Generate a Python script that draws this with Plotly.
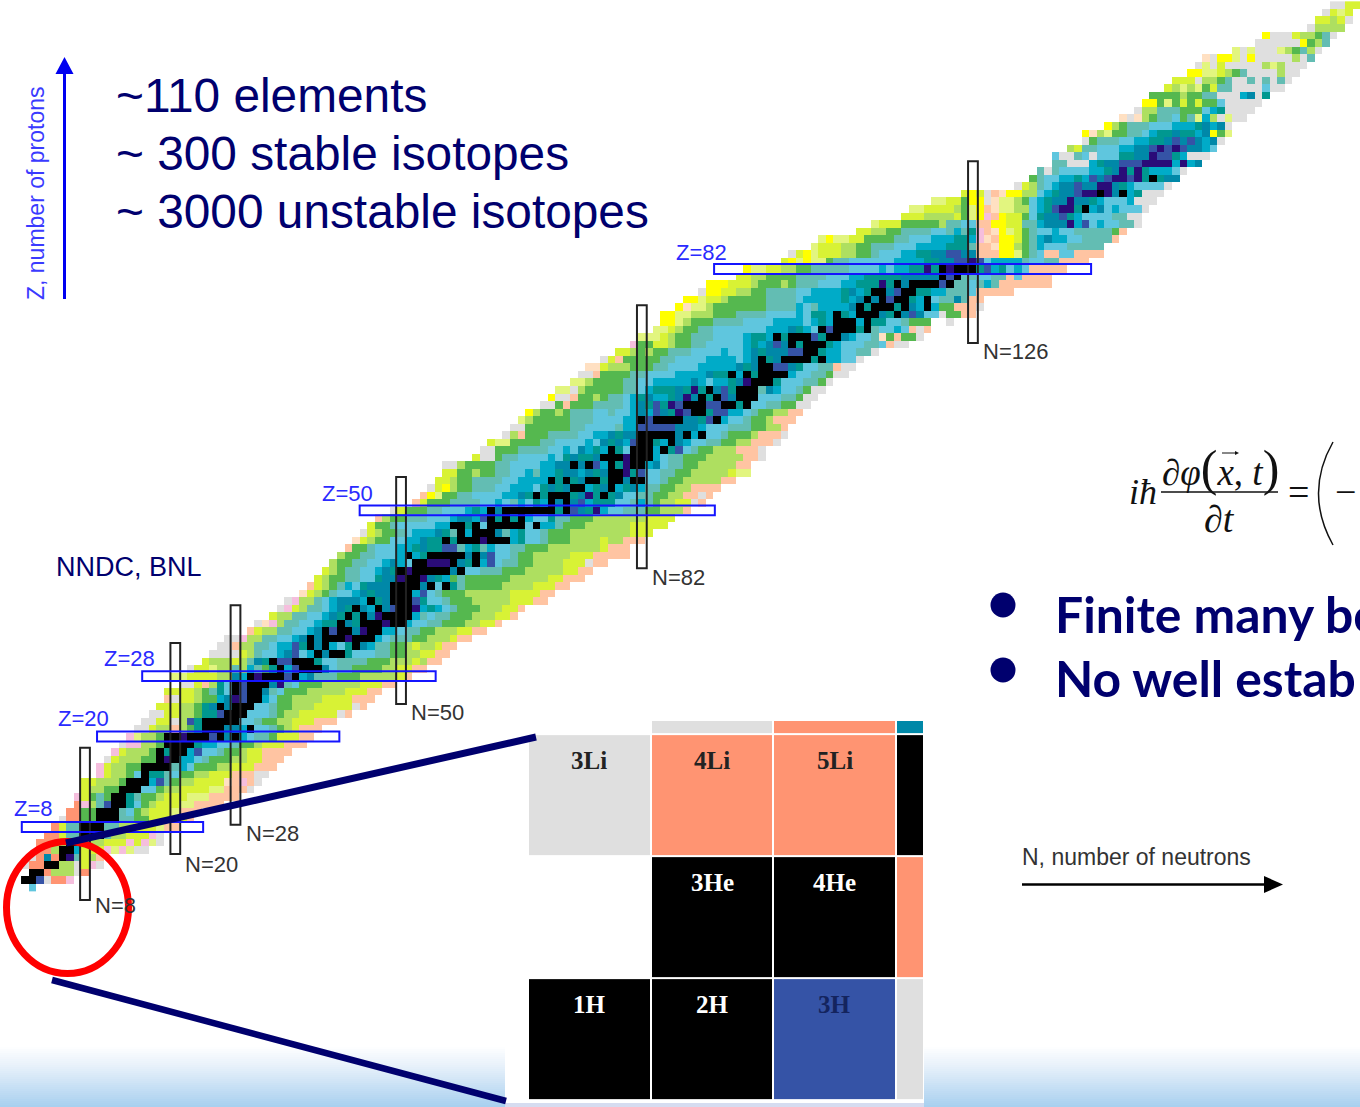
import plotly.graph_objects as go

# ---------- data: chart of nuclides, one entry per proton number Z = 0..117 ----------
# first neutron number of each row
ROW_START = [1, 0, 1, 0, 1, 2, 2, 3, 4, 5, 6, 7, 7, 8, 8, 10, 10, 11, 12, 13,
             14, 15, 16, 17, 18, 19, 19, 21, 20, 22, 24, 25, 26, 27, 30, 31, 33, 34, 35, 37,
             38, 39, 40, 41, 42, 43, 44, 45, 46, 47, 49, 52, 53, 54, 55, 56, 56, 60, 61, 62,
             64, 65, 66, 67, 69, 70, 71, 73, 74, 75, 77, 79, 81, 82, 84, 85, 85, 87, 88, 90,
             91, 95, 96, 101, 102, 105, 106, 111, 113, 117, 118, 121, 125, 132, 134, 135, 137, 137, 139, 141,
             141, 144, 146, 148, 149, 150, 152, 153, 155, 156, 157, 161, 164, 165, 171, 172, 173, 174]

# decay-class runs along each row: letter = class, digits = number of isotopes
ROW_RUNS = [
    "S1",  # Z=0
    "K2 B1 g1 r2 n1",
    "K2 r1 l3 g1 r1",
    "g1 r2 K2 l2 g1 y1 n1 g1",
    "g1 r1 D1 r1 K1 V1 T1 y1 l1 p1",
    "r2 l1 K2 C1 y3 n1 e1 n1 e1 g2",  # Z=5
    "r3 l1 K2 l3 y3 n1 y1 n1 e1 g1",
    "r2 y1 T2 K3 T1 l2 y3 n1 g1",
    "r1 y1 T2 K3 T2 l2 y3 e1 p2",
    "g1 r2 G2 K3 T2 G2 y3 e1 y1 p1",
    "r2 G2 K3 T1 S1 G1 l1 y3 e1 p3",  # Z=10
    "r1 n1 l1 T1 B1 K2 E1 S1 G1 l1 y3 e2 p4",
    "n1 y1 G1 T1 G1 K2 E1 T1 G2 l1 y3 e3 p4",
    "y1 l2 G1 G1 K3 S2 G1 l2 y4 e2 p3 g1",
    "y2 l3 G1 K3 C1 B1 T1 G1 l2 y4 f1 p1 n1 p1 g1",
    "n1 y1 l2 G1 S1 K1 E2 T1 S1 G2 l2 y3 p3 g2",  # Z=15
    "n1 y1 l2 G2 K4 T1 C1 S1 G3 l2 y3 p3",
    "g1 y1 l3 G2 K1 V1 K1 C2 S1 T1 G3 l2 y2 p3",
    "n1 y1 l3 G1 K1 E1 K2 C1 B1 S2 T1 G2 l1 y2 p4",
    "g1 n2 l2 G1 K4 E1 C2 S2 T1 G2 l1 y3 p3",
    "n1 e1 l2 G1 K2 V1 K3 B1 K1 D1 K1 C1 S1 T2 G1 y3 p2",  # Z=20
    "g2 y1 l2 p1 l1 G1 E1 K3 D2 C1 K1 S2 T1 G1 l1 y1 p3",
    "g2 y2 g1 l1 B1 E1 K5 S2 T1 G2 l2 y3 p3",
    "g2 y2 l2 G1 E2 B1 K3 S3 T1 G1 l2 y5 g1 p1",
    "y3 l2 G1 E1 D1 K1 D1 K3 S2 T1 G2 l3 y5 g1 p1",
    "p1 g1 y2 l1 G2 C1 D1 V1 B1 K2 C1 S1 G2 l4 y4 p3",  # Z=25
    "y4 l1 G1 T1 E1 S1 K1 B1 K2 D1 T1 S1 G3 l5 y3 p2",
    "g2 y1 p1 l1 E1 S1 K1 B1 K3 D1 V1 T1 S1 G3 l5 y3 p2",
    "e2 y4 l2 D1 C1 K1 V1 K3 B1 K1 C1 D1 T3 G3 l5 y1 p1",
    "g1 y2 e1 l2 T1 l1 C1 T1 G1 E1 K1 C1 B1 K3 D1 S1 T2 G4 l2 y2 p2",
    "y1 l3 y1 l1 T1 D1 E1 K1 B2 K3 E1 S2 T4 G3 l3 y1 l1 p2",  # Z=30
    "g4 y1 l1 T1 S2 C1 D1 B1 S1 C1 K1 D1 K2 E1 S3 T2 G2 l2 y2 p2",
    "g2 p1 l2 T2 S1 C2 B1 E1 K1 D1 K1 C1 S1 E1 K1 D1 C1 T2 G2 l1 y1 l2 y1 p2",
    "g2 n1 l2 T2 S2 C1 D1 K1 D1 K3 V1 K3 C1 S1 T3 G2 l3 y1 p2",
    "p1 y1 l2 T2 S2 C1 D1 K1 B1 K2 D1 V1 K2 C2 S1 T2 G2 l3 y2 p2",
    "g1 f1 n1 l1 T2 S2 C1 E2 K1 D1 E1 K3 V1 K2 C1 S2 T2 G3 l2 y2 p1",  # Z=35
    "y1 l2 T2 S2 C1 D1 E1 K1 E1 K1 D1 V1 K4 C1 T1 S1 T2 G3 l3 y2 p1",
    "g1 n1 y1 l1 T2 S1 C1 D1 E1 K1 D1 C1 K1 D1 B1 K2 V1 C1 E1 C1 S1 T1 G3 l3 y2 p1",
    "g1 n1 l2 T1 S1 C1 D1 D2 C1 K1 E1 D1 K3 B1 E1 S2 T1 G3 l5 y3 p2",
    "f1 y1 l1 G1 T1 S2 C1 D1 E1 D2 K3 C1 B1 S1 T1 G3 l6 y4 p2",
    "p1 y1 l1 G1 T1 C1 S1 E1 D3 K4 D1 K1 S1 K1 E1 T1 G5 l4 y3 p2",  # Z=40
    "y1 l1 G2 T2 S2 E1 D2 V1 K2 V1 D1 E1 C1 G1 T1 G6 l5 y2 p3",
    "y1 l1 G1 T2 S2 C1 D1 E1 K1 V1 K5 D1 K1 S2 T3 G3 l5 y2 p2",
    "l1 G2 T2 S2 C1 D1 C1 S1 K2 V3 K1 D1 E1 K1 C1 B1 S1 T2 G2 l4 y3 g1 p2",
    "l1 G2 T2 S3 C1 K1 C1 E1 K5 D1 K1 D1 B1 S2 T1 G2 l5 y3 p5",
    "p1 G2 T1 S3 C2 E1 D1 E2 B2 T1 C1 E1 T1 C1 S2 T2 G3 l7 y1 p3",  # Z=45
    "f1 y1 l1 G2 S2 C2 D1 E2 K1 E1 K3 V1 K3 C1 E1 S2 T1 G3 l4 y1 l2 p3",
    "g1 y1 l1 G2 T1 S1 C3 D1 E1 T1 K1 C1 K3 D1 T1 C1 E1 S2 T1 G3 l8 y3",
    "y1 G2 T1 S5 C2 K2 E1 K1 S1 K5 S1 K1 C2 T1 G3 l6 y5",
    "p1 l1 G2 T3 S3 C1 D2 C1 B1 K1 E1 K1 E1 K1 C1 S2 E1 T2 G3 l7 y4",
    "g1 y1 G3 T2 S3 C1 E1 C1 K1 D1 K7 E1 K1 B1 D1 E1 V1 C1 S2 T3 G2 l3 p1",  # Z=50
    "p1 y1 G3 T4 S2 C1 S1 T1 C1 S1 E1 C1 K1 D1 K1 D1 B1 C1 E3 S2 T1 C1 T1 G1 l2 y2 g1 p1",
    "p1 Y1 e1 G2 T2 S4 C2 D1 E1 K1 E1 K3 E1 D1 V1 E1 K1 E1 D1 S2 T2 G2 l2 p2 g1 p1",
    "g1 y1 Y1 l1 G2 T3 S2 C3 S1 E1 D1 E1 D1 K2 C1 E1 D1 K1 C1 E1 D1 C1 T2 G2 l2 p4",
    "y2 l1 G2 T4 S2 C4 K1 E1 K1 E1 D1 K2 E1 K2 D1 K2 S2 T1 G2 l5 p2",
    "y2 G2 l1 G2 T2 S2 C1 T1 C2 E1 D2 C1 D1 E1 D1 K2 V1 E1 B1 S2 T2 G2 l5 y1 e2",  # Z=55
    "g2 l1 G4 T2 S4 C2 D2 K1 D1 K1 B1 C1 K1 E1 V1 K2 C1 D1 S1 T2 G2 l5 p2",
    "y1 g2 G1 T2 S4 C1 S1 E1 D1 E2 D1 K3 V1 K3 C1 S1 T2 G3 l5 p2 g1",
    "g2 G3 T4 S2 C1 S1 D1 C1 E1 C1 K1 E1 S1 K3 C1 K1 E1 B1 S1 T1 G2 l3 p3 g1",
    "y1 e2 G4 T2 S4 C1 S1 D1 E1 D1 C1 B1 K2 E1 C1 K1 D1 C1 S2 T2 G2 l2 p3 g1",
    "g1 l1 p1 G3 T4 S2 C2 D1 E1 D2 K5 D1 K1 C1 K1 S2 T1 G3 l1 p3 g1",  # Z=60
    "g2 G6 T2 S4 T1 C2 B5 D3 C1 S3 T3 G2 l2 p1",
    "e1 l1 G5 T3 S4 C2 K1 B1 K4 D2 E1 B1 K1 C1 S2 T1 G2 l1 p3",
    "Y1 l1 G2 l1 G1 T3 S2 T1 S2 C1 D1 C1 B1 D1 E1 V1 B1 K2 E1 B2 C2 S1 T1 G2 l2 p2",
    "g2 G1 p1 G3 T4 S1 C1 D1 E1 B1 E1 V1 B1 K3 B2 K2 E1 K1 S2 T2 G2 g2",
    "Y1 g2 p1 G2 l1 G1 T2 S1 C1 E1 D1 C2 E1 D1 V1 D1 K1 E1 K1 B1 D1 K3 S3 T2 G1 g2",  # Z=65
    "e2 g1 l1 G5 T2 S1 C1 E3 D1 E1 V1 E1 K1 D1 B1 E1 K3 T1 D1 C1 S2 T1 G1 g2",
    "e2 l1 G4 T2 S2 C3 C2 D1 C1 S1 C2 E1 D1 V1 K3 E1 S3 T2 G1 g1",
    "g2 p1 G4 T2 S4 C4 D1 E2 K1 C1 K1 E1 K4 C1 S2 T2 G1 g2",
    "f2 y1 l3 G3 T2 S4 C5 D1 E1 D1 K2 B2 D1 E1 S2 T2 p1 g2",
    "g1 y1 p1 G5 T2 S4 C4 S1 C1 D1 K1 E1 D1 K4 E1 K1 C2 S2 g1",  # Z=70
    "y2 l1 G1 l1 G2 T3 S4 C1 S2 C1 D1 E1 D3 B2 K2 E1 C2 S2 T2 g1",
    "n1 G2 y2 l1 G2 T2 S5 C1 E1 C1 D1 B1 D1 K1 E1 K3 E1 C1 S3 T2 S1 p1 g2",
    "e3 y1 l1 G2 T3 S4 C1 E2 C1 K1 E1 K3 B1 E1 K2 D1 C1 S2 T1 f1 G1 p1 G2 g1",
    "e2 y1 l1 G2 T2 S7 C3 D1 E1 C1 S1 K1 B1 K3 E1 K1 T1 S2 C1 S1 p1 g1 p1",
    "Y2 e1 l1 G3 T4 S4 C4 S1 C1 E1 C1 K3 C1 K1 E2 S2 T1 G3 w2 g1",  # Z=75
    "Y2 e2 l3 G3 T4 S4 C1 S1 E2 C1 K1 E1 C1 K3 D1 E1 K1 D1 B1 D1 S2 g1 G2 p2",
    "Y1 f1 e2 l1 G7 T4 C1 S1 T1 C4 D1 K1 E1 K3 E1 K1 D1 C1 K1 C1 G2 p3 g1",
    "Y2 e1 y2 l1 G5 T4 S1 C5 E1 C1 D1 K1 D1 K1 B1 K2 E1 C1 K1 S1 T2 D1 T1 p2",
    "g1 Y2 y2 l2 G2 T4 S2 C4 E1 D1 C1 E1 K2 D1 B1 K2 E2 C2 T3 S1 p5",
    "Y3 y3 l1 G3 l1 G1 T3 S3 C2 E3 V1 E1 K1 D1 K4 B1 K1 T2 S1 T1 C1 T1 p7",  # Z=80
    "y2 l2 G4 T4 S3 C2 E5 D5 K1 B1 K1 T2 S2 T2 p1 S1 p4",
    "Y1 e2 y2 l2 G2 T5 S4 C1 S1 C2 E2 V1 E1 K1 V1 K3 E1 B1 C1 E1 S1 C1 S1 p5",
    "y1 Y1 e1 Y1 e2 G1 T2 S6 C4 E2 D2 B2 V1 B1 S1 C4 T1 S2 T2 p4",
    "g1 y1 Y1 e1 y3 l2 G2 T1 S3 C2 E2 D2 B2 D2 p3 Y2 e1 G1 T1 S1 p2 S2 p4",
    "e1 y3 l2 G2 T3 S3 C4 E3 T1 p2 f1 Y2 l1 G1 T1 C1 S3 T5",  # Z=85
    "e1 Y1 e2 y2 G4 T2 S3 C3 E2 C1 n1 f1 p1 Y2 y1 G1 T1 C1 D1 C2 S2 T4 p1",
    "y2 l2 G2 T4 S2 T1 C1 T1 E1 n1 p1 f1 Y1 e1 y1 G1 T1 S2 C1 S2 T5 G1 p1",
    "e1 y3 G5 l1 T2 S2 p2 Y2 y2 T2 C1 D3 V1 C1 B1 S1 C1 S2 T2 g1",
    "y3 l4 y1 G1 e1 Y1 n1 p1 Y1 y2 G1 S1 E1 D2 B1 E1 C1 S4 T2 g2",
    "e2 y4 l1 G1 e1 Y1 p1 f1 e2 l2 S1 C1 E1 B1 V2 E1 K1 C1 D1 S1 C1 S3 g1",  # Z=90
    "e2 y2 G1 Y2 g1 f1 e2 l1 G1 S1 C1 E1 D2 V1 D2 E1 C1 S3 C1 g3",
    "y1 Y1 y1 g1 p1 f1 Y2 l2 S1 C1 E1 D2 B1 V2 K1 V1 D1 K1 C1 E1 g3",
    "g1 y1 l1 T1 S1 C1 D2 B1 D2 V2 D1 E1 C1 S4 g1",
    "G1 T1 S2 C2 E1 C1 B1 D1 B1 V2 B1 V1 E1 K1 E1 D2",
    "T1 g1 T1 S4 C2 E1 D1 V1 E1 V1 E1 C3 S1 g1",  # Z=95
    "T2 g3 C1 E1 D2 B3 V4 C1 V1 C1 D1",
    "S1 g2 T1 S1 g1 S3 E2 D2 V1 B2 E1 C1 g3",
    "l1 y1 T2 S3 C2 D2 B1 V1 B1 V1 B1 D2 C1 S1",
    "g1 G1 T3 S2 C2 E2 D1 B1 D1 B1 D1 C1 D1 g1",
    "Y1 f1 l1 e1 G2 T2 S1 C1 E2 D1 E2 C1 D1 Y1 G1 e1",  # Z=100
    "Y1 l1 G1 T3 S3 C3 E1 D1 C1 D1 g1",
    "f1 g1 f1 l1 G1 T2 S1 G1 T1 e1 C1 l1 g1 e1 g2",
    "g1 l2 T3 G3 S1 C1 E1 g4",
    "Y2 G1 e1 G1 y1 G1 y1 G2 S1 g5",
    "G4 l1 G2 T2 g3 C1 D1 g1 E1",  # Z=105
    "y1 l1 e1 l1 e1 G1 y1 T2 g4 S1 g2",
    "y3 g1 l2 G1 T1 g2 T1 g1 T1 g1 T1 g1",
    "Y2 e2 y1 l1 G1 T1 g4 l1 g2",
    "g1 e1 g1 y1 g5 l1 e1 l1 g3",
    "f1 g1 Y2 e1 g1 Y1 g5 l1 g1 T1",  # Z=110
    "e1 g1 e1 g3 e1 l1 G1 T1 l1 g1",
    "g6 Y1 G1 l1 T1",
    "Y1 g3 y1 l2 G1 T1 g1",
    "g1 l4",
    "y2 l1 y1 g1",  # Z=115
    "g1 y1 e1 y1",
    "g2 y2",
]

CLASS_CODES = ["g", "p", "f", "r", "n", "Y", "y", "e", "l", "G", "T", "S", "C", "D", "E", "B", "V", "K"]
CLASS_COLORS = ["#DFDFDF", "#FFC4A2", "#FFE0C2", "#FF9472", "#F5BEDD", "#FFFF00", "#D8F235", "#E2F57F",
                "#AEDF60", "#55B84F", "#63BDB3", "#5FC6DE", "#00ABC8", "#0088A8", "#009890", "#3553A6",
                "#2A0C78", "#000000"]

# Magic numbers
MAGIC_N = [8, 20, 28, 50, 82, 126]
MAGIC_N_ZLOW = [-1.7, 4.4, 8.3, 24.3, 42.3, 72.2]
MAGIC_N_ZHIGH = [18.5, 32.4, 37.4, 54.4, 77.2, 96.3]
MAGIC_Z = [8, 20, 28, 50, 82]
MAGIC_Z_NLOW = [-0.4, 9.6, 15.6, 44.5, 91.6]
MAGIC_Z_NHIGH = [23.7, 41.8, 54.6, 91.7, 141.7]

# Enlarged corner of the chart
INSET_N = [0, 1, 2, 3]
INSET_Z = [1, 2, 3, 4]
INSET_CLASSES = [["K", "K", "B", "g"], ["w", "K", "K", "r"], ["g", "r", "r", "K"], ["w", "g", "r", "D"]]
INSET_LABELS = ["1H", "2H", "3H", "3He", "4He", "3Li", "4Li", "5Li"]
INSET_LABEL_N = [0, 1, 2, 1, 2, 0, 1, 2]
INSET_LABEL_Z = [1, 1, 1, 2, 2, 3, 3, 3]

INFO_LINES = ["~110 elements", "~ 300 stable isotopes", "~ 3000 unstable isotopes"]
BULLETS = ["Finite many bo", "No well estab"]

# ---------- build ----------
NAVY = "#00006E"
SANS = "Liberation Sans"
SERIF = "Liberation Serif"
code_index = {c: i for i, c in enumerate(CLASS_CODES)}
n_class = len(CLASS_CODES)
scale = []
for i, col in enumerate(CLASS_COLORS):
    scale += [[i / n_class, col], [(i + 1) / n_class, col]]

grid = [[None] * 178 for _ in range(118)]
for z, (start, runs) in enumerate(zip(ROW_START, ROW_RUNS)):
    n = start
    for tok in runs.split():
        code, count = tok[0], int(tok[1:])
        for _ in range(count):
            if code != "w" and n < 178:
                grid[z][n] = code_index[code] + 0.5
            n += 1

fig = go.Figure()
fig.add_trace(go.Heatmap(z=grid, x=list(range(178)), y=list(range(118)), colorscale=scale,
                         zmin=0, zmax=n_class, showscale=False, hoverinfo="skip", xaxis="x", yaxis="y"))

# slide footer gradient, left and right of the white inset
grad_scale = [[0, "#FFFFFF"], [0.35, "#E6F0FA"], [1, "#A9D0EF"]]
steps = 31
grad_edges = [1045 + 2 * i for i in range(steps + 1)]
for xs in ([0, 505], [924, 1360]):
    fig.add_trace(go.Heatmap(z=[[i] for i in range(steps)], x=xs, y=grad_edges, colorscale=grad_scale,
                             showscale=False, hoverinfo="skip", xaxis="x2", yaxis="y2"))

inset_z = [[None if c == "w" else code_index[c] + 0.5 for c in row] for row in INSET_CLASSES]
fig.add_trace(go.Heatmap(z=inset_z, x=INSET_N, y=INSET_Z, colorscale=scale, zmin=0, zmax=n_class,
                         xgap=2, ygap=2, showscale=False, hoverinfo="skip", xaxis="x3", yaxis="y3"))

shapes = []
def px_line(x0, y0, x1, y1, color, width):
    shapes.append(dict(type="line", xref="x2", yref="y2", x0=x0, y0=y0, x1=x1, y1=y1,
                       line=dict(color=color, width=width), layer="above"))
def px_path(path, fill=None, color=None, width=0):
    shapes.append(dict(type="path", xref="x2", yref="y2", path=path, fillcolor=fill or "rgba(0,0,0,0)",
                       line=dict(color=color or "rgba(0,0,0,0)", width=width), layer="above"))

# lilac strip under the inset
shapes.append(dict(type="rect", xref="x2", yref="y2", x0=505, x1=924, y0=1103, y1=1107,
                   fillcolor="#D6DCF0", line=dict(width=0), layer="above"))

for n, lo, hi in zip(MAGIC_N, MAGIC_N_ZLOW, MAGIC_N_ZHIGH):
    shapes.append(dict(type="rect", xref="x", yref="y", x0=n - 0.65, x1=n + 0.65, y0=lo, y1=hi,
                       line=dict(color="#222222", width=2), layer="above"))
for z, lo, hi in zip(MAGIC_Z, MAGIC_Z_NLOW, MAGIC_Z_NHIGH):
    shapes.append(dict(type="rect", xref="x", yref="y", x0=lo, x1=hi, y0=z - 0.65, y1=z + 0.65,
                       line=dict(color="#1414FF", width=2), layer="above"))

# proton and neutron arrows
px_line(64.5, 299, 64.5, 70, "#0000F0", 3)
px_path("M 55.5 74 L 73.5 74 L 64.5 57 Z", fill="#0000F0")
px_line(1022, 884.5, 1268, 884.5, "#000000", 2.5)
px_path("M 1264 876 L 1283 884.5 L 1264 893 Z", fill="#000000")

# zoom-in callout
shapes.append(dict(type="circle", xref="x2", yref="y2", x0=6.5, x1=128.5, y0=841.5, y1=973.5,
                   line=dict(color="#FF0000", width=7), layer="above"))
px_line(66, 843, 536, 737, NAVY, 7)
px_line(52, 980, 506, 1101, NAVY, 6.5)

# equation and bullets
px_line(1161, 492, 1278, 492, "#111111", 1.5)
px_line(1222, 453, 1236, 453, "#111111", 1)
px_path("M 1235 451 L 1239 453 L 1235 455 Z", fill="#111111")
px_path("M 1333 442 Q 1304 493 1333 545", color="#111111", width=1.5)
for cy in (605, 670):
    shapes.append(dict(type="circle", xref="x2", yref="y2", x0=990.5, x1=1015.5, y0=cy - 12.5, y1=cy + 12.5,
                       fillcolor=NAVY, line=dict(width=0), layer="above"))

annotations = []
def txt(text, x, y, size, color, family=SANS, anchor="left", angle=0):
    annotations.append(dict(text=text, x=x, y=y, xref="x2", yref="y2", xanchor=anchor, yanchor="middle",
                            showarrow=False, textangle=angle, borderpad=0,
                            font=dict(size=size, color=color, family=family)))

for line, y in zip(INFO_LINES, (95, 153, 211)):
    txt(line, 115, y, 47.8, NAVY)
txt("NNDC, BNL", 55, 567, 27, NAVY)
txt("Z, number of protons", 36, 193, 23, "#3A3AFF", anchor="center", angle=-90)
txt("N, number of neutrons", 1021, 857, 23, "#333333")

for z, x, y in zip(MAGIC_Z, (13, 57, 103, 321, 675), (808, 718, 658, 493, 252)):
    txt(f"Z={z}", x, y, 22, "#2A2AFF")
for n, x, y in zip(MAGIC_N, (94, 184, 245, 410, 651, 982), (905, 864, 833, 712, 577, 351)):
    txt(f"N={n}", x, y, 22, "#333333")

for label, n, z in zip(INSET_LABELS, INSET_LABEL_N, INSET_LABEL_Z):
    code = INSET_CLASSES[z - 1][n]
    col = "#FFFFFF" if code == "K" else ("#14245E" if code == "B" else "#222222")
    annotations.append(dict(text=f"<b>{label}</b>", x=n, y=z + 0.285, xref="x3", yref="y3", showarrow=False,
                            xanchor="center", yanchor="middle",
                            font=dict(size=25, color=col, family=SERIF)))

for text, y in zip(BULLETS, (614, 678)):
    txt(f"<b>{text}</b>", 1054, y, 49.8, NAVY, family="Lato")

big = "<span style='font-size:50px'>{}</span>"
txt("<i>iħ</i>", 1128, 492, 36, "#111111", SERIF)
txt("<i>∂φ</i>" + big.format("(") + "<i>x</i>, <i>t</i>" + big.format(")"), 1220, 468, 37, "#111111", SERIF,
    anchor="center")
txt("<i>∂t</i>", 1219, 519, 38, "#111111", SERIF, anchor="center")
txt("=", 1298, 492, 38, "#111111", SERIF, anchor="center")
txt("−", 1345, 492, 38, "#111111", SERIF, anchor="center")

hidden = dict(visible=False, fixedrange=True)
x_scale_lo, x_scale_hi = (0 - 24.8) / 7.525, (1360 - 24.8) / 7.525
y_scale_lo, y_scale_hi = (887.3 - 1107) / 7.54, 887.3 / 7.54
fig.update_layout(
    width=1360, height=1107, margin=dict(l=0, r=0, t=0, b=0),
    paper_bgcolor="white", plot_bgcolor="rgba(0,0,0,0)", showlegend=False,
    xaxis=dict(range=[x_scale_lo, x_scale_hi], domain=[0, 1], **hidden),
    yaxis=dict(range=[y_scale_lo, y_scale_hi], domain=[0, 1], **hidden),
    xaxis2=dict(range=[0, 1360], overlaying="x", anchor="y2", **hidden),
    yaxis2=dict(range=[1107, 0], overlaying="y", anchor="x2", **hidden),
    xaxis3=dict(range=[-0.5, 2.72], domain=[528 / 1360, 923 / 1360], anchor="y3", **hidden),
    yaxis3=dict(range=[0.5, 3.607], domain=[7 / 1107, 386 / 1107], anchor="x3", **hidden),
    shapes=shapes, annotations=annotations,
)
fig.write_html("out.html", config=dict(displayModeBar=False),
               post_script="document.body.style.margin='0';document.documentElement.style.overflow='hidden';")
